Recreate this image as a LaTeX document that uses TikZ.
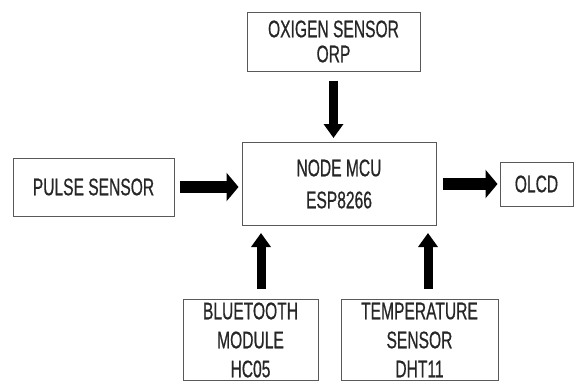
\documentclass[tikz,border=0pt]{standalone}
\usepackage{fontspec}
\setmainfont[FakeStretch=0.65,FakeBold=0.6]{Liberation Sans}
\usetikzlibrary{arrows.meta}
\begin{document}
\begin{tikzpicture}[x=1pt,y=-1pt,
  blk/.style={draw=black!65,line width=1pt,inner sep=0pt,align=center,
    font=\fontsize{24}{30}\selectfont,text=black!85},
  vArr/.style={line width=9pt,-{Triangle[width=19pt,length=14pt]}},
  hArr/.style={line width=12.5pt,-{Triangle[width=28pt,length=12pt]}}]
\useasboundingbox (0,0) rectangle (576,383);
\node[blk,minimum width=173pt,minimum height=59pt,font=\fontsize{24}{25}\selectfont] (OXY) at (333.5,41.5) {OXIGEN SENSOR\\ORP};
\node[blk,minimum width=194pt,minimum height=83pt,font=\fontsize{24}{32}\selectfont] (MCU) at (339,184) {NODE MCU\\ESP8266};
\node[blk,minimum width=161pt,minimum height=58pt] (PULSE) at (93.5,187) {PULSE SENSOR};
\node[blk,minimum width=73pt,minimum height=44pt] (OLCD) at (536.5,184) {OLCD};
\node[blk,minimum width=135pt,minimum height=81pt,font=\fontsize{24}{29}\selectfont] (BT) at (250.5,340) {BLUETOOTH\\MODULE\\HC05};
\node[blk,minimum width=157pt,minimum height=81pt,font=\fontsize{24}{29}\selectfont] (TEMP) at (419.5,340) {TEMPERATURE\\SENSOR\\DHT11};
\draw[vArr,shorten <=9pt,shorten >=4pt] (OXY.south) -- (OXY.south |- MCU.north);
\draw[hArr,shorten <=5pt,shorten >=3pt] (PULSE.east) -- (PULSE.east -| MCU.west);
\draw[hArr,shorten <=6pt,shorten >=2pt] (MCU.east |- OLCD.west) -- (OLCD.west);
\draw[vArr,shorten <=10pt,shorten >=7pt] ([xshift=10.5pt]BT.north) -- ([xshift=10.5pt]BT.north |- MCU.south);
\draw[vArr,shorten <=10pt,shorten >=7pt] ([xshift=8.5pt]TEMP.north) -- ([xshift=8.5pt]TEMP.north |- MCU.south);
\end{tikzpicture}
\end{document}
